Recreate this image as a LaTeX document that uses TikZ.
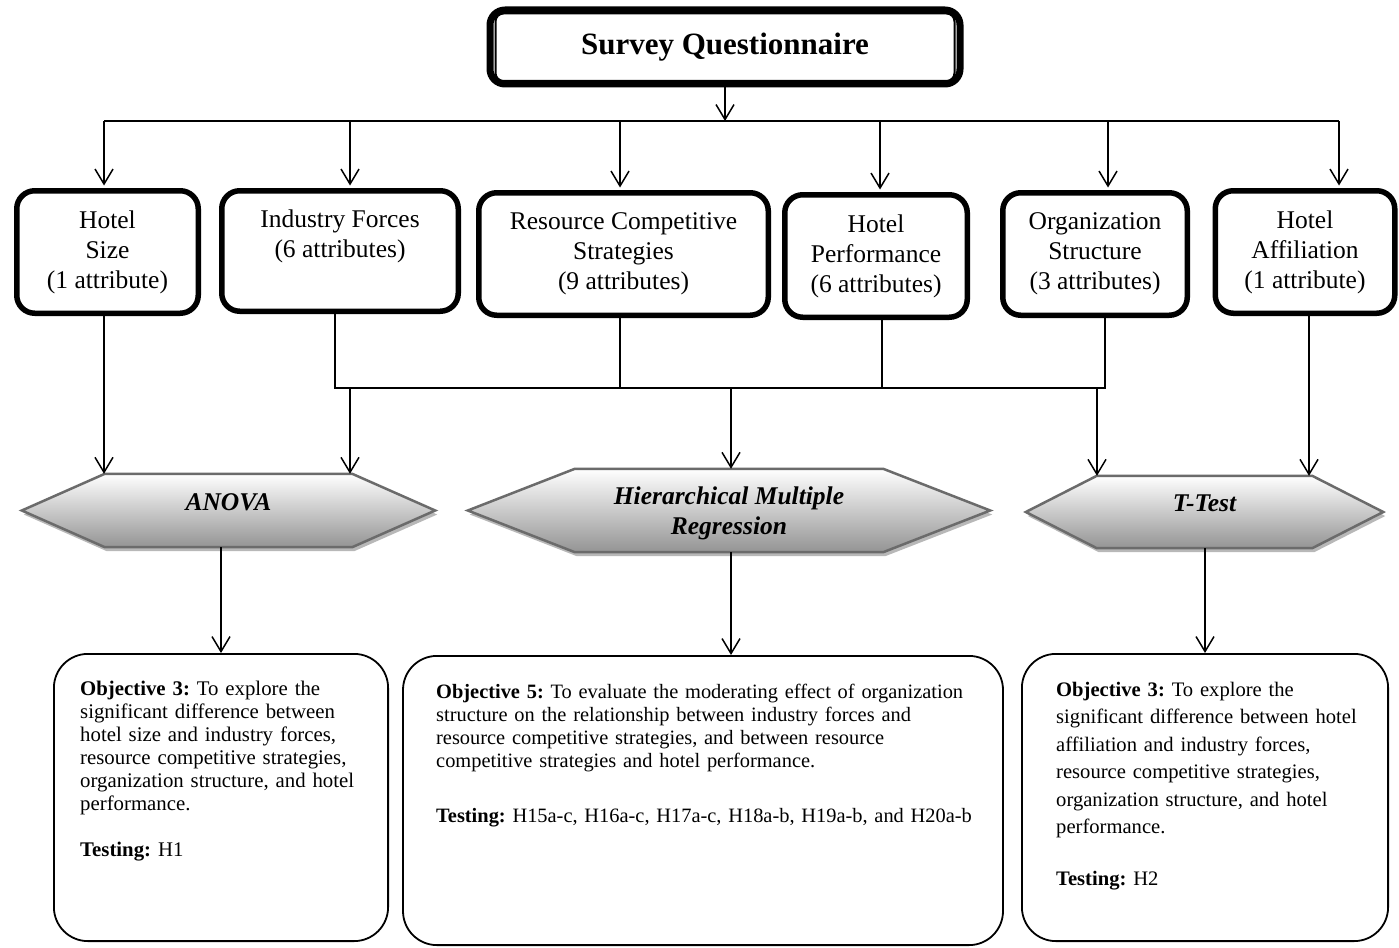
\documentclass[tikz,border=0pt]{standalone}
\usepackage{fontspec}
\setmainfont{Liberation Serif}
\usetikzlibrary{arrows.meta,shadows}
\frenchspacing

\begin{document}
\begin{tikzpicture}[x=1pt,y=-1pt,
  conn/.style={line width=1.5pt, draw=black},
  arr/.style={conn, -{Straight Barb[length=15pt,width=18pt,line width=1.5pt]}},
  rowbox/.style={draw, line width=5.5pt, rounded corners=18pt, align=center,
    inner sep=0pt, font=\fontsize{25.5}{30}\selectfont},
  hexnode/.style={inner sep=0pt},
  hexlabel/.style={font=\fontsize{25.5}{30}\selectfont\bfseries\itshape, align=center, inner sep=0pt},
  hexshape/.style={draw=black!58, line width=2.5pt, top color=white, bottom color=black!42,
    drop shadow={shadow xshift=2pt, shadow yshift=-4pt, fill=black!28, opacity=1}},
  objbox/.style={draw, line width=1.8pt, rounded corners=34pt, inner sep=0pt},
  objtext/.style={anchor=north west, inner sep=0pt, align=left, text width=#1}
]
\useasboundingbox (0,0) rectangle (1399,947);
\fill[white] (0,0) rectangle (1399,947);

% title box with a heavy outer frame and a thin inner frame
\node[draw, line width=7pt, rounded corners=15pt, minimum width=470pt, minimum height=74pt,
  inner sep=0pt, font=\fontsize{31}{36}\selectfont\bfseries] (sq) at (725,47) {Survey Questionnaire};
\draw[line width=2pt, rounded corners=8pt]
  ([shift={(9,7)}]sq.north west) rectangle ([shift={(-9,-6.5)}]sq.south east);

% variable boxes
\node[rowbox, minimum width=181.5pt, minimum height=122.5pt] (size) at (107.5,252) {Hotel\\Size\\(1 attribute)};
\node[rowbox, minimum width=236.5pt, minimum height=120.5pt] (ind) at (340,251) {Industry Forces\\(6 attributes)\\\phantom{(}};
\node[rowbox, minimum width=289.5pt, minimum height=122.5pt] (res) at (623.5,254) {Resource Competitive\\Strategies\\(9 attributes)};
\node[rowbox, minimum width=182.5pt, minimum height=122.5pt] (perf) at (876,256) {Hotel\\Performance\\(6 attributes)};
\node[rowbox, minimum width=184.5pt, minimum height=122.5pt] (org) at (1095,254) {Organization\\Structure\\(3 attributes)};
\node[rowbox, minimum width=179.5pt, minimum height=122.5pt] (aff) at (1305,252) {Hotel\\Affiliation\\(1 attribute)};

% distribution from the questionnaire
\coordinate (tb) at (725,121);
\coordinate (t1) at (104,121);
\coordinate (t2) at (350,121);
\coordinate (t3) at (620,121);
\coordinate (t4) at (880,121);
\coordinate (t5) at (1108,121);
\coordinate (t6) at (1339,121);
\draw[arr] (sq.south) -- (tb);
\draw[conn] (t1) -- (t6);
\draw[arr, shorten >=2.5pt] (t1) -- (t1 |- size.north);
\draw[arr, shorten >=2.5pt] (t2) -- (t2 |- ind.north);
\draw[arr, shorten >=2.5pt] (t3) -- (t3 |- res.north);
\draw[arr, shorten >=2.5pt] (t4) -- (t4 |- perf.north);
\draw[arr, shorten >=2.5pt] (t5) -- (t5 |- org.north);
\draw[arr, shorten >=2.5pt] (t6) -- (t6 |- aff.north);

% analysis hexagons
\node[hexnode, minimum width=413pt, minimum height=73pt] (anova) at (228.5,510.5) {};
\path[hexshape] (anova.west) -- ([xshift=83pt]anova.north west) -- ([xshift=-83pt]anova.north east)
  -- (anova.east) -- ([xshift=-83pt]anova.south east) -- ([xshift=83pt]anova.south west) -- cycle;
\node[hexlabel] (anovaL) at ([yshift=8.5pt]anova.center) {ANOVA};

\node[hexnode, minimum width=522pt, minimum height=83pt] (hier) at (729,510.5) {};
\path[hexshape] (hier.west) -- ([xshift=107pt]hier.north west) -- ([xshift=-107pt]hier.north east)
  -- (hier.east) -- ([xshift=-107pt]hier.south east) -- ([xshift=107pt]hier.south west) -- cycle;
\node[hexlabel] (hierL) at ([yshift=-3pt]hier.center) {Hierarchical Multiple\\Regression};

\node[hexnode, minimum width=357pt, minimum height=72pt] (ttest) at (1204.5,512) {};
\path[hexshape] (ttest.west) -- ([xshift=71pt]ttest.north west) -- ([xshift=-71pt]ttest.north east)
  -- (ttest.east) -- ([xshift=-71pt]ttest.south east) -- ([xshift=71pt]ttest.south west) -- cycle;
\node[hexlabel] (ttestL) at ([yshift=9pt]ttest.center) {T-Test};

% feeds into the analyses
\coordinate (b1) at (335,388);
\coordinate (b2) at (620,388);
\coordinate (b3) at (882,388);
\coordinate (b4) at (1105,388);
\coordinate (d1) at (350,388);
\coordinate (d2) at (731,388);
\coordinate (d3) at (1097,388);
\draw[conn] (ind.south -| b1) -- (b1) -- (b4) -- (org.south -| b4);
\draw[conn] (res.south -| b2) -- (b2);
\draw[conn] (perf.south -| b3) -- (b3);
\draw[arr] (size.south -| t1) -- (t1 |- anova.north);
\draw[arr] (d1) -- (d1 |- anova.north);
\draw[arr] (d2) -- (d2 |- hier.north);
\draw[arr] (d3) -- (d3 |- ttest.north);
\draw[arr] ([xshift=4pt]aff.south) -- ([xshift=4pt]aff.south |- ttest.north);

% objective boxes
\node[objbox, minimum width=334.2pt, minimum height=287.2pt] (obj1) at (221,797.5) {};
\node[objbox, minimum width=600pt, minimum height=289.2pt] (obj2) at (703,800.5) {};
\node[objbox, minimum width=366.2pt, minimum height=287.2pt] (obj3) at (1205,797.5) {};

\draw[arr] (anova.south -| obj1.north) -- (obj1.north);
\draw[arr] (hier.south -| d2) -- (d2 |- obj2.north);
\draw[arr] (ttest.south -| obj3.north) -- (obj3.north);

\node[objtext=320pt, font=\fontsize{20.8}{23}\selectfont] (obj1T) at (80,679)
  {\strut\textbf{Objective 3:} To explore the\\
   significant difference between\\
   hotel size and industry forces,\\
   resource competitive strategies,\\
   organization structure, and hotel\\
   performance.\\[23pt]
   \textbf{Testing:} H1};
\node[objtext=560pt, font=\fontsize{20.4}{23}\selectfont] (obj2T) at (436,682)
  {\strut\textbf{Objective 5:} To evaluate the moderating effect of organization\\
   structure on the relationship between industry forces and\\
   resource competitive strategies, and between resource\\
   competitive strategies and hotel performance.\\[32pt]
   \textbf{Testing:} H15a-c, H16a-c, H17a-c, H18a-b, H19a-b, and H20a-b};
\node[objtext=330pt, font=\fontsize{20.6}{27.5}\selectfont] (obj3T) at (1056,677)
  {\strut\textbf{Objective 3:} To explore the\\
   significant difference between hotel\\
   affiliation and industry forces,\\
   resource competitive strategies,\\
   organization structure, and hotel\\
   performance.\\[24.5pt]
   \textbf{Testing:} H2};
\end{tikzpicture}
\end{document}
